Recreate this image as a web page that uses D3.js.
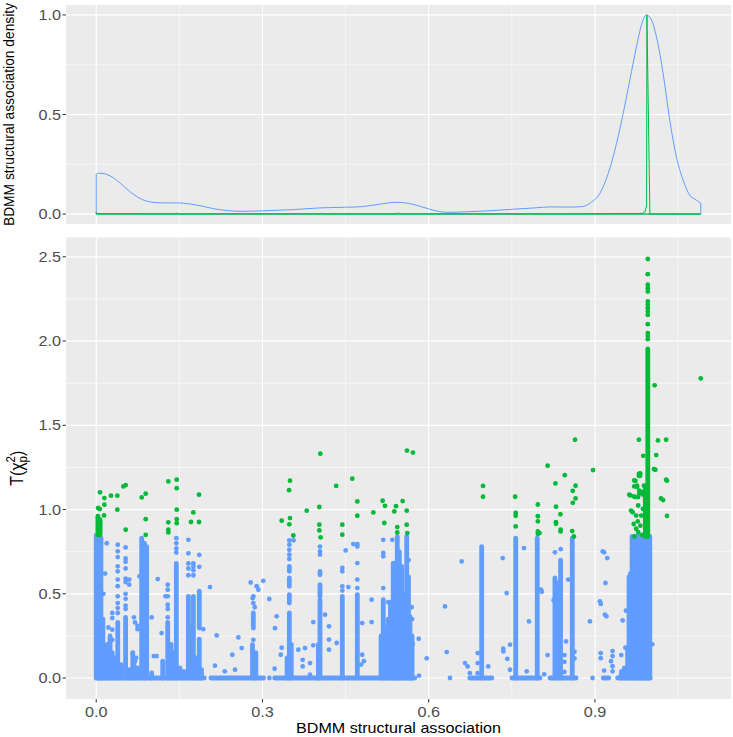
<!DOCTYPE html>
<html><head><meta charset="utf-8">
<script src="https://cdn.jsdelivr.net/npm/d3@7"></script>
<style>body{margin:0;background:#fff} text{font-family:"Liberation Sans",Arial,sans-serif}</style>
</head><body><svg id="c" width="733" height="737"></svg>
<script>
// ---------------- DATA ----------------
const xTicks = [0.0, 0.3, 0.6, 0.9];
const xTickLabels = ["0.0", "0.3", "0.6", "0.9"];
const xMinor = [0.15, 0.45, 0.75, 1.05];
const topYTicks = [0.0, 0.5, 1.0];
const topYTickLabels = ["0.0", "0.5", "1.0"];
const topYMinor = [0.25, 0.75];
const botYTicks = [0.0, 0.5, 1.0, 1.5, 2.0, 2.5];
const botYTickLabels = ["0.0", "0.5", "1.0", "1.5", "2.0", "2.5"];
const botYMinor = [0.25, 0.75, 1.25, 1.75, 2.25];

// density (scaled) of BDMM structural association, all sites (blue)
const blueDensX = [0, 0.004, 0.012, 0.021, 0.0365, 0.052, 0.0676, 0.083, 0.1026, 0.122, 0.145, 0.169, 0.192, 0.215, 0.2385, 0.262, 0.308, 0.355, 0.402, 0.448, 0.479, 0.510, 0.5416, 0.565, 0.588, 0.6115, 0.635, 0.674, 0.7125, 0.751, 0.790, 0.821, 0.852, 0.8757, 0.894, 0.909, 0.924, 0.939, 0.951, 0.963, 0.975, 0.984, 0.993, 1.002, 1.011, 1.023, 1.035, 1.047, 1.059, 1.071, 1.083, 1.091];
const blueDensY = [0.200, 0.205, 0.204, 0.197, 0.171, 0.134, 0.098, 0.073, 0.059, 0.056, 0.056, 0.051, 0.039, 0.0255, 0.017, 0.0136, 0.017, 0.022, 0.0306, 0.034, 0.037, 0.049, 0.059, 0.053, 0.036, 0.017, 0.0085, 0.012, 0.017, 0.024, 0.0306, 0.036, 0.035, 0.037, 0.060, 0.104, 0.204, 0.355, 0.506, 0.673, 0.841, 0.950, 1.000, 0.975, 0.891, 0.707, 0.472, 0.288, 0.171, 0.095, 0.070, 0.054];
// density (scaled) for significant sites (green)
const greenDensX = [0, 0, 0.002, 0.144, 0.146, 0.148, 0.404, 0.406, 0.408, 0.543, 0.545, 0.547, 0.698, 0.700, 0.702, 0.858, 0.860, 0.862, 0.985, 0.990, 0.9932, 0.9938, 0.9992, 1.091, 1.091];
const greenDensY = [0, 0.010, 0.002, 0.001, 0.006, 0.001, 0.001, 0.004, 0.001, 0.001, 0.007, 0.001, 0.001, 0.003, 0.001, 0.001, 0.004, 0.001, 0.003, 0.010, 0.040, 1.000, 0.000, 0.000, 0.000];

// blue points drawn along y = 0 (dense runs): [xStart, xEnd]
const blueBaseRuns = [[0, 0.195], [0.207, 0.302], [0.3125, 0.3125], [0.322, 0.575], [0.674, 0.714], [0.75, 0.801], [0.819, 0.866], [0.915, 0.925], [0.941, 1.0]];
// blue dense vertical stacks of points: [x, yFrom, yTo]
const blueStacks = [
 [0.000,0,0.846],[0.0045,0,0.84],[0.0085,0,0.83],[0.012,0,0.35],[0.016,0,0.1],[0.02,0,0.2],[0.025,0,0.25],[0.029,0,0.15],[0.035,0,0.12],
 [0.0388,0,0.33],[0.045,0,0.08],[0.053,0,0.36],[0.06,0,0.05],[0.066,0,0.15],[0.068,0,0.1],[0.0745,0,0.06],
 [0.082,0,0.83],[0.087,0,0.8],[0.091,0,0.78],[0.1,0,0.03],[0.12,0,0.1],[0.129,0,0.33],[0.135,0,0.2],[0.14,0,0.15],
 [0.1446,0,0.68],[0.151,0,0.06],[0.158,0,0.04],[0.1663,0,0.485],[0.172,0,0.3],[0.1753,0,0.485],[0.18,0,0.12],
 [0.186,0,0.23],[0.186,0.297,0.515],[0.19,0,0.05],
 [0.282,0,0.198],[0.288,0,0.15],[0.2835,0.307,0.386],
 [0.3445,0,0.12],[0.3485,0,0.386],[0.3485,0.445,0.495],[0.3485,0.544,0.594],[0.3485,0.633,0.663],[0.352,0,0.2],
 [0.401,0,0.2],[0.4038,0,0.465],[0.4038,0.485,0.554],[0.4038,0.613,0.633],
 [0.4441,0,0.485],[0.4712,0,0.495],
 [0.514,0,0.25],[0.518,0,0.465],[0.5235,0,0.3],[0.527,0,0.35],[0.531,0,0.45],[0.536,0,0.682],[0.539,0,0.5],[0.5433,0,0.84],
 [0.547,0,0.75],[0.5512,0,0.663],[0.5555,0,0.5],[0.5603,0,0.84],[0.5635,0,0.6],[0.5662,0,0.366],[0.57,0,0.25],
 [0.6956,0,0.78],[0.757,0,0.83],[0.7959,0,0.83],[0.8278,0,0.594],[0.834,0,0.564],[0.838,0,0.7],[0.8591,0,0.83],
 [0.948,0,0.04],[0.953,0,0.06],[0.959,0,0.18],[0.9615,0,0.6],[0.964,0.05,0.62],[0.967,0,0.84],[0.971,0,0.84],
 [0.975,0,0.84],[0.979,0,0.84],[0.983,0,0.84],[0.987,0,0.84],[0.991,0,0.84],[0.995,0,0.84],[0.999,0,0.84]
];
// blue individual points: [x, y]
const bluePoints = [
 [0.019,0.80],[0.016,0.62],[0.013,0.5],[0.024,0.18],[0.022,0.3],
 [0.029,0.386],[0.029,0.356],[0.029,0.227],[0.029,0.287],
 [0.0388,0.791],[0.0388,0.752],[0.0388,0.718],[0.0388,0.663],[0.0388,0.633],[0.0388,0.584],[0.0388,0.545],[0.0388,0.485],[0.0388,0.445],[0.0388,0.415],[0.0388,0.386],
 [0.053,0.775],[0.053,0.71],[0.053,0.69],[0.053,0.65],[0.053,0.59],[0.053,0.57],[0.053,0.5],[0.053,0.47],[0.053,0.43],[0.053,0.41],
 [0.0595,0.554],[0.0595,0.584],[0.0625,0.05],[0.066,0.148],[0.07,0.1],[0.071,0.05],[0.068,0.36],[0.07,0.33],
 [0.0745,0.31],[0.0745,0.29],[0.072,0.12],[0.078,0.603],
 [0.1,0.36],[0.104,0.13],[0.109,0.13],[0.111,0.587],[0.118,0.267],[0.125,0.485],
 [0.129,0.554],[0.129,0.524],[0.129,0.485],[0.129,0.435],[0.129,0.41],[0.129,0.36],
 [0.1446,0.83],[0.1446,0.8],[0.1446,0.77],[0.1446,0.745],
 [0.1663,0.82],[0.1663,0.74],[0.1663,0.68],[0.1663,0.65],[0.1663,0.61],
 [0.1753,0.68],[0.1753,0.663],[0.1753,0.64],[0.1753,0.61],
 [0.186,0.731],[0.186,0.66],[0.193,0.29],[0.2053,0.54],[0.2143,0.073],[0.2174,0.253],
 [0.232,0.04],[0.2456,0.138],[0.2564,0.241],[0.2625,0.178],[0.2505,0.049],[0.2788,0.567],
 [0.2835,0.485],[0.2835,0.445],[0.286,0.42],[0.2835,0.297],[0.2835,0.227],[0.2896,0.545],
 [0.2824,0.474],[0.2925,0.524],[0.3015,0.577],[0.3123,0.469],[0.3257,0.366],[0.3226,0.296],[0.322,0.055],[0.3347,0.18],[0.333,0.138],
 [0.3485,0.817],[0.3485,0.791],[0.3485,0.761],[0.3485,0.732],[0.3485,0.706],[0.356,0.817],
 [0.3647,0.168],[0.3726,0.108],[0.3726,0.069],[0.3768,0.178],[0.3858,0.089],[0.3858,0.02],[0.3917,0.194],[0.3917,0.332],
 [0.4038,0.78],[0.4038,0.751],[0.4038,0.732],[0.4129,0.376],[0.42,0.307],[0.42,0.228],[0.42,0.168],[0.434,0.208],
 [0.4441,0.653],[0.4441,0.633],[0.4441,0.544],[0.4441,0.519],[0.4502,0.757],[0.455,0.54],[0.464,0.795],
 [0.4712,0.795],[0.4712,0.781],[0.4712,0.682],[0.4712,0.584],[0.4712,0.534],
 [0.48,0.326],[0.48,0.138],[0.478,0.08],[0.483,0.1],[0.497,0.465],[0.497,0.332],
 [0.518,0.82],[0.518,0.742],[0.518,0.722],[0.518,0.534],[0.5343,0.82],[0.527,0.45],[0.539,0.6],[0.5635,0.7],[0.57,0.35],
 [0.582,0.233],[0.5964,0.117],[0.5825,0.014],[0.571,0.2],[0.569,0.42],
 [0.6294,0.425],[0.6325,0.154],[0.6384,0],[0.6595,0.692],[0.6655,0.089],[0.6703,0.069],[0.6743,0.029],
 [0.6884,0.148],[0.6884,0.089],[0.6884,0.029],[0.7075,0.069],
 [0.7335,0.712],[0.7346,0.158],[0.7346,0.174],[0.7418,0.114],[0.7407,0.504],[0.7467,0.198],[0.7467,0.049],
 [0.7719,0.771],[0.7809,0.336],[0.7768,0.04],[0.8026,0.524],[0.8042,0.512],[0.8145,0.136],[0.8084,0.022],
 [0.8278,0.746],[0.8382,0.765],[0.8255,0.462],[0.8519,0.584],[0.8479,0.217],[0.845,0.136],[0.845,0.096],[0.845,0.036],[0.863,0.156],[0.863,0.116],
 [0.891,0.336],[0.8957,0],[0.909,0.455],[0.918,0.376],[0.914,0.751],[0.9222,0.712],[0.919,0.564],[0.9105,0.44],[0.9105,0.148],[0.9105,0.118],[0.9166,0.746],[0.9208,0.366],[0.9166,0.044],
 [0.9318,0.16],[0.9318,0.13],[0.929,0.1],[0.9318,0.07],[0.9318,0.04],
 [0.95,0.342],[0.9475,0.136],[0.955,0.18],[0.956,0.4],[1.0035,0.2],[0.947,0.02]
];
// green dense vertical stacks: [x, yFrom, yTo]
const greenStacks = [[0.003,0.85,0.96],[0.007,0.85,0.94],[0.991,0.84,1.12],[0.9954,0.84,1.953]];
// green individual points: [x, y]
const greenPoints = [
 [0.0069,1.102],[0.0065,1.003],[0.0035,1.009],[0.0147,1.068],[0.0147,1.029],[0.0141,0.965],[0.0267,1.082],[0.0381,1.082],[0.0381,0.999],
 [0.049,1.137],[0.0532,1.145],[0.0532,0.88],[0.0821,1.072],[0.0893,1.094],[0.0893,0.943],[0.0893,0.85],
 [0.1301,1.167],[0.1301,0.924],[0.1301,0.88],[0.1301,0.864],[0.1453,1.177],[0.1453,1.127],[0.1453,0.999],[0.1453,0.943],[0.1453,0.919],
 [0.1752,0.983],[0.171,0.926],[0.1855,1.088],[0.1855,0.926],
 [0.3347,0.934],[0.3497,0.949],[0.3485,0.912],[0.3557,0.846],[0.3497,1.171],[0.348,1.115],[0.3799,0.993],
 [0.4026,1.015],[0.4026,0.91],[0.4026,0.876],[0.405,0.835],[0.4044,1.331],[0.433,1.14],
 [0.4441,0.91],[0.4441,0.851],[0.4621,1.183],[0.4712,1.048],[0.4712,0.963],[0.5,0.983],
 [0.5169,1.052],[0.5211,1.022],[0.5199,0.92],[0.5379,0.989],[0.5433,0.896],[0.5433,0.864],[0.541,1.02],[0.553,1.05],
 [0.5603,0.993],[0.5603,0.91],[0.5614,0.86],[0.5608,1.35],[0.5716,1.338],
 [0.698,1.14],[0.698,1.076],[0.756,1.076],[0.757,0.98],[0.757,0.963],[0.757,0.9],
 [0.797,1.03],[0.797,0.96],[0.797,0.93],[0.797,0.87],[0.797,0.856],[0.8,0.86],
 [0.8146,1.26],[0.8456,1.204],[0.8287,1.155],[0.8297,1.017],[0.8297,0.915],[0.8297,0.925],[0.8377,0.972],[0.838,0.87],[0.838,0.88],
 [0.8965,1.234],[0.865,1.141],[0.860,1.111],[0.865,1.066],[0.86,1.04],[0.859,0.872],[0.862,0.84],[0.864,1.414],
 [1.009,1.236],[1.030,1.171],[1.023,1.056],[1.030,0.962],[1.0077,1.737],[1.091,1.778],
 [0.9794,1.414],[1.0137,1.41],[1.0285,1.414],[0.9872,1.319],[1.0106,1.323],[1.0065,1.24],[0.9794,1.212],[0.9794,1.2],
 [1.0285,1.177],[0.971,1.173],[0.971,1.137],[0.976,1.141],[0.98,1.112],[0.9885,1.141],[0.962,1.088],[0.9704,1.078],[0.978,1.074],[0.987,1.088],[1.0192,1.066],
 [0.9816,1.215],[0.9816,1.2],[0.973,1.17],[0.976,1.134],[0.9834,1.104],[0.98,1.094],[0.973,1.074],[0.964,1.084],[0.9908,1.064],
 [0.9652,0.994],[0.968,0.984],[0.9744,0.964],[0.9834,0.964],[0.9773,0.93],[0.97,0.914],[0.982,0.904],[0.9744,0.886],[0.978,0.866],[0.9713,0.84],
 [0.9865,1.004],[0.9908,0.964],[0.9926,0.916],[0.985,0.85],[0.978,1.024],
 [0.9954,2.487],[0.9954,2.397],[0.9954,2.334],[0.9954,2.314],[0.9954,2.294],[0.9954,2.235],[0.9954,2.215],[0.9954,2.195],[0.9954,2.175],[0.9954,2.155],[0.9954,2.1],[0.9954,2.047],[0.9954,2.031],[0.9954,2.011]
];

// ---------------- DRAWING ----------------
const BLUE = "#619CFF", GREEN = "#00BA38", PANEL = "#EBEBEB";
const svg = d3.select("#c");
const L = 66, R = 731;
const x = d3.scaleLinear().domain([-0.05455, 1.14555]).range([L, R]);
const yTop = d3.scaleLinear().domain([-0.05, 1.05]).range([224, 5]);
const yBot = d3.scaleLinear().domain([-0.1245, 2.6145]).range([699, 237.5]);
const SX = 1.12; // horizontal text stretch seen in the reference

function panel(y, yMaj, yMin) {
  const [b, t] = y.range();
  svg.append("rect").attr("x", L).attr("y", t).attr("width", R - L).attr("height", b - t).attr("fill", PANEL);
  const g = svg.append("g");
  g.selectAll(".hm").data(yMin).join("line").attr("x1", L).attr("x2", R).attr("y1", d => y(d)).attr("y2", d => y(d)).attr("stroke", "#fff").attr("stroke-width", 0.6);
  g.selectAll(".vm").data(xMinor).join("line").attr("y1", t).attr("y2", b).attr("x1", d => x(d)).attr("x2", d => x(d)).attr("stroke", "#fff").attr("stroke-width", 0.6);
  g.selectAll(".hM").data(yMaj).join("line").attr("x1", L).attr("x2", R).attr("y1", d => y(d)).attr("y2", d => y(d)).attr("stroke", "#fff").attr("stroke-width", 1.2);
  g.selectAll(".vM").data(xTicks).join("line").attr("y1", t).attr("y2", b).attr("x1", d => x(d)).attr("x2", d => x(d)).attr("stroke", "#fff").attr("stroke-width", 1.2);
}
function yAxis(y, ticks, labels) {
  const g = svg.append("g");
  g.selectAll("line").data(ticks).join("line").attr("x1", L - 3.5).attr("x2", L).attr("y1", d => y(d)).attr("y2", d => y(d)).attr("stroke", "#333").attr("stroke-width", 1);
  g.selectAll("text").data(ticks).join("text")
    .attr("transform", d => `translate(${L - 5},${y(d) + 5.2}) scale(${SX},1)`)
    .attr("text-anchor", "end").attr("font-size", 14.5).attr("fill", "#4D4D4D")
    .text((d, i) => labels[i]);
}

panel(yTop, topYTicks, topYMinor);
panel(yBot, botYTicks, botYMinor);
yAxis(yTop, topYTicks, topYTickLabels);
yAxis(yBot, botYTicks, botYTickLabels);

// x axis (bottom only)
const xg = svg.append("g");
xg.selectAll("line").data(xTicks).join("line").attr("x1", d => x(d)).attr("x2", d => x(d)).attr("y1", 699).attr("y2", 702.5).attr("stroke", "#333").attr("stroke-width", 1);
xg.selectAll("text").data(xTicks).join("text")
  .attr("transform", d => `translate(${x(d)},717) scale(${SX},1)`)
  .attr("text-anchor", "middle").attr("font-size", 14.5).attr("fill", "#4D4D4D")
  .text((d, i) => xTickLabels[i]);

// titles
svg.append("text").attr("transform", `translate(${(L + R) / 2},733) scale(1.15,1)`).attr("text-anchor", "middle")
  .attr("font-size", 14).attr("fill", "#000").text("BDMM structural association");
svg.append("text").attr("transform", `translate(13.5,${(5 + 224) / 2}) scale(1.1,1) rotate(-90)`).attr("text-anchor", "middle")
  .attr("font-size", 13.8).attr("fill", "#000").text("BDMM structural association density");
const yt = svg.append("text").attr("transform", `translate(23,${(237.5 + 699) / 2}) scale(1.1,1) rotate(-90)`).attr("text-anchor", "middle")
  .attr("font-size", 16).attr("fill", "#000");
yt.append("tspan").text("T(χ");
yt.append("tspan").attr("font-size", 11.5).attr("dy", 3.5).text("p");
yt.append("tspan").attr("font-size", 11.5).attr("dx", -6.4).attr("dy", -11).text("2");
yt.append("tspan").attr("dy", 7.5).text(")");

// ---- top panel: densities ----
const densLine = d3.line().x(d => x(d[0])).y(d => yTop(d[1]));
const blueD = blueDensX.map((v, i) => [v, blueDensY[i]]);
svg.append("path").attr("d", densLine.curve(d3.curveMonotoneX)(blueD))
  .attr("fill", "none").attr("stroke", BLUE).attr("stroke-width", 1);
const last = blueD[blueD.length - 1];
svg.append("path").attr("d", d3.line().x(d => x(d[0])).y(d => yTop(d[1]))([last, [last[0], 0], [0, 0], blueD[0]]))
  .attr("fill", "none").attr("stroke", BLUE).attr("stroke-width", 1);
const greenD = greenDensX.map((v, i) => [v, greenDensY[i]]);
svg.append("path").attr("d", d3.line().x(d => x(d[0])).y(d => yTop(d[1]))(greenD.concat([[0, 0]])))
  .attr("fill", "none").attr("stroke", GREEN).attr("stroke-width", 1);

// ---- bottom panel: points ----
const DOT = 4.8;
const pts = svg.append("g");
function stacks(data, col) {
  pts.append("g").selectAll("line").data(data).join("line")
    .attr("x1", d => x(d[0])).attr("x2", d => x(d[0]))
    .attr("y1", d => yBot(d[1])).attr("y2", d => yBot(d[2]))
    .attr("stroke", col).attr("stroke-width", DOT).attr("stroke-linecap", "round");
}
function dots(data, col) {
  pts.append("g").selectAll("circle").data(data).join("circle")
    .attr("cx", d => x(d[0])).attr("cy", d => yBot(d[1])).attr("r", DOT / 2).attr("fill", col);
}
pts.append("g").selectAll("line").data(blueBaseRuns).join("line")
  .attr("x1", d => x(d[0])).attr("x2", d => x(d[1])).attr("y1", yBot(0)).attr("y2", yBot(0))
  .attr("stroke", BLUE).attr("stroke-width", DOT).attr("stroke-linecap", "round");
stacks(blueStacks, BLUE);
dots(bluePoints, BLUE);
stacks(greenStacks, GREEN);
dots(greenPoints, GREEN);
</script></body></html>
